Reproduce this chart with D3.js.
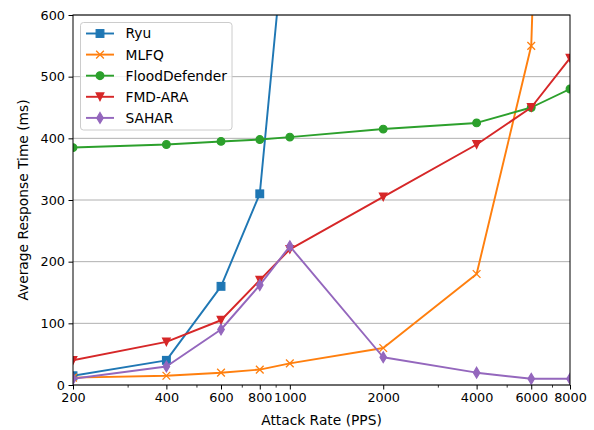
<!DOCTYPE html>
<html>
<head>
<meta charset="utf-8">
<script src="https://cdn.jsdelivr.net/npm/d3@7"></script>
<style>
  html, body { margin: 0; padding: 0; background: #fff; }
  svg { display: block; font-family: "DejaVu Sans", sans-serif; }
</style>
</head>
<body>
<svg id="chart" width="594" height="430"></svg>
<script>
// Attack rates (PPS) on the x axis
const attackRates = [200, 400, 600, 800, 1000, 2000, 4000, 6000, 8000];
const xTickLabels = ["200", "400", "600", "800", "1000", "2000", "4000", "6000", "8000"];
const xMinorTicks = [300, 500, 700, 900, 3000, 5000, 7000];
const yTicks = [0, 100, 200, 300, 400, 500, 600];

// Average response time (ms) per scheme
const ryu = [15, 40, 160, 310, 820];
const mlfq = [12, 15, 20, 25, 35, 60, 180, 550, 2500];
const floodDefender = [385, 390, 395, 398, 402, 415, 425, 450, 480];
const fmdAra = [40, 70, 105, 170, 220, 305, 390, 450, 530];
const sahar = [10, 30, 90, 162, 225, 45, 20, 10, 10];

const seriesNames = ["Ryu", "MLFQ", "FloodDefender", "FMD-ARA", "SAHAR"];
const seriesValues = [ryu, mlfq, floodDefender, fmdAra, sahar];
const seriesColors = ["#1f77b4", "#ff7f0e", "#2ca02c", "#d62728", "#9467bd"];
const seriesMarkers = ["square", "x", "circle", "triangleDown", "thinDiamond"];

const margin = { left: 73, right: 24, top: 15, bottom: 45 };
const W = 594, H = 430;
const pw = W - margin.left - margin.right;
const ph = H - margin.top - margin.bottom;
const tickFont = 12.8;
const labelFont = 13.8;

const svg = d3.select("#chart");
const x = d3.scaleLog().domain([200, 8000]).range([0, pw]);
const y = d3.scaleLinear().domain([0, 600]).range([ph, 0]);

const g = svg.append("g").attr("transform", `translate(${margin.left},${margin.top})`);

svg.append("defs").append("clipPath").attr("id", "plotClip")
  .append("rect").attr("x", 0).attr("y", 0).attr("width", pw).attr("height", ph);

// Horizontal grid lines
g.append("g").selectAll("line").data(yTicks).join("line")
  .attr("x1", 0).attr("x2", pw)
  .attr("y1", d => y(d)).attr("y2", d => y(d))
  .attr("stroke", "#b0b0b0").attr("stroke-width", 1);

// Series lines and markers
const plot = g.append("g").attr("clip-path", "url(#plotClip)");
const ms = 7.7;

function drawMarker(sel, type, color) {
  const h = ms / 2;
  if (type === "square") {
    sel.append("rect").attr("x", -h).attr("y", -h).attr("width", ms).attr("height", ms)
      .attr("fill", color).attr("stroke", color).attr("stroke-width", 1.2);
  } else if (type === "circle") {
    sel.append("circle").attr("r", h).attr("fill", color).attr("stroke", color).attr("stroke-width", 1.2);
  } else if (type === "x") {
    sel.append("path").attr("d", `M${-h},${-h}L${h},${h}M${-h},${h}L${h},${-h}`)
      .attr("stroke", color).attr("stroke-width", 1.3).attr("fill", "none");
  } else if (type === "triangleDown") {
    sel.append("path").attr("d", `M${-h},${-h}L${h},${-h}L0,${h}Z`)
      .attr("fill", color).attr("stroke", color).attr("stroke-width", 1.2);
  } else if (type === "thinDiamond") {
    const hh = ms * Math.SQRT1_2;
    const w = hh * 0.6;
    sel.append("path").attr("d", `M0,${-hh}L${w},0L0,${hh}L${-w},0Z`)
      .attr("fill", color).attr("stroke", color).attr("stroke-width", 1.2)
      .attr("stroke-linejoin", "miter");
  }
}

const line = d3.line().x(d => x(d[0])).y(d => y(d[1]));

seriesValues.forEach((vals, i) => {
  const pts = vals.map((v, j) => [attackRates[j], v]);
  const color = seriesColors[i];
  plot.append("path").datum(pts)
    .attr("d", line).attr("fill", "none")
    .attr("stroke", color).attr("stroke-width", 1.93)
    .attr("stroke-linejoin", "round").attr("stroke-linecap", "square");
  pts.forEach(p => {
    const m = plot.append("g").attr("transform", `translate(${x(p[0])},${y(p[1])})`);
    drawMarker(m, seriesMarkers[i], color);
  });
});

// Axes
const xAxis = d3.axisBottom(x).tickValues(attackRates)
  .tickFormat((d, i) => xTickLabels[i]).tickSize(4.5).tickPadding(3.5);
const xg = g.append("g").attr("transform", `translate(0,${ph})`).call(xAxis);
xg.select(".domain").remove();
xg.selectAll("text").attr("font-size", tickFont).attr("fill", "#000")
  .attr("font-family", "DejaVu Sans");
xg.selectAll("line").attr("stroke", "#000").attr("stroke-width", 1);

const xMinor = d3.axisBottom(x).tickValues(xMinorTicks).tickFormat("").tickSize(2.6);
const xmg = g.append("g").attr("transform", `translate(0,${ph})`).call(xMinor);
xmg.select(".domain").remove();
xmg.selectAll("line").attr("stroke", "#000").attr("stroke-width", 0.8);

const yAxis = d3.axisLeft(y).tickValues(yTicks).tickSize(4.5).tickPadding(3.5);
const yg = g.append("g").call(yAxis);
yg.select(".domain").remove();
yg.selectAll("text").attr("font-size", tickFont).attr("fill", "#000")
  .attr("font-family", "DejaVu Sans");
yg.selectAll("line").attr("stroke", "#000").attr("stroke-width", 1);

// Frame
g.append("rect").attr("x", 0).attr("y", 0).attr("width", pw).attr("height", ph)
  .attr("fill", "none").attr("stroke", "#000").attr("stroke-width", 1);

// Axis titles
svg.append("text").attr("x", margin.left + pw / 2).attr("y", 424.5)
  .attr("text-anchor", "middle").attr("font-size", labelFont).attr("fill", "#000")
  .text("Attack Rate (PPS)");
svg.append("text").attr("transform", `translate(27.5,${margin.top + ph / 2}) rotate(-90)`)
  .attr("text-anchor", "middle").attr("font-size", labelFont).attr("fill", "#000")
  .text("Average Response Time (ms)");

// Legend
const lg = svg.append("g").attr("transform", "translate(80.5,22.5)");
lg.append("rect").attr("width", 151.5).attr("height", 107.5).attr("rx", 3)
  .attr("fill", "#fff").attr("fill-opacity", 0.8)
  .attr("stroke", "#cccccc").attr("stroke-width", 1);
seriesNames.forEach((name, i) => {
  const cy = 11 + i * 21.1;
  const color = seriesColors[i];
  lg.append("line").attr("x1", 5.5).attr("x2", 33.5).attr("y1", cy).attr("y2", cy)
    .attr("stroke", color).attr("stroke-width", 1.93);
  const m = lg.append("g").attr("transform", `translate(19.5,${cy})`);
  drawMarker(m, seriesMarkers[i], color);
  lg.append("text").attr("x", 45).attr("y", cy).attr("dy", "0.36em")
    .attr("font-size", labelFont).attr("fill", "#000").text(name);
});
</script>
</body>
</html>
